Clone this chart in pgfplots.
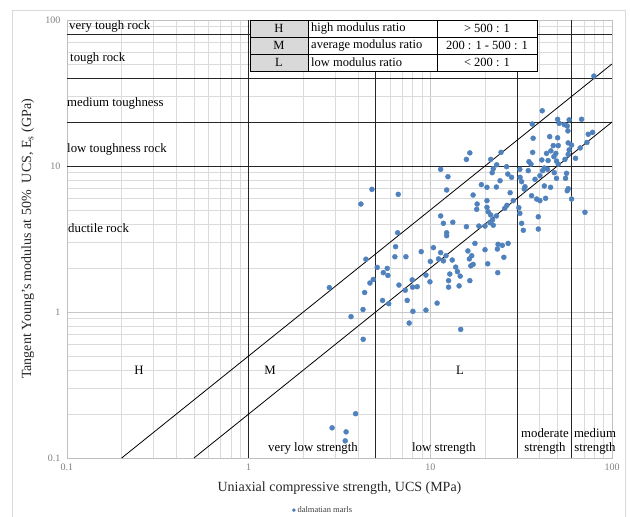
\documentclass[border=0pt]{standalone}
\usepackage{fontspec}
\setmainfont{Liberation Serif}
\usepackage{pgfplots}
\pgfplotsset{compat=1.18}
\usepackage{pgfplotstable}
\definecolor{mkblue}{RGB}{79,129,189}
\pgfplotstableread{
x y
4.77 6.92
6.66 6.40
4.15 5.49
6.61 3.49
6.44 2.80
6.38 2.39
7.34 2.39
4.42 2.30
2.78 1.47
5.10 2.02
5.79 1.99
5.51 1.86
5.84 1.78
4.85 1.67
4.65 1.58
7.95 1.66
6.72 1.53
8.47 1.49
7.99 1.48
7.28 1.41
4.35 1.36
5.46 1.20
5.90 1.14
7.46 1.20
4.26 1.04
8.02 1.01
3.66 0.93
7.65 0.84
4.27 0.65
16.5 12.3
15.8 11.1
24.5 12.4
21.5 11.1
23.2 10.2
22.2 9.58
21.9 9.0
26.3 9.89
11.4 9.49
12.5 8.45
26.7 8.81
28.0 8.37
24.2 7.93
12.3 6.85
19.1 7.45
20.5 7.15
23.1 7.18
27.5 6.56
17.2 6.33
20.5 5.79
28.6 5.79
18.1 5.49
18.0 5.05
20.5 5.21
26.4 5.38
25.7 5.13
20.8 4.86
23.1 4.55
11.4 4.55
21.5 4.62
22.0 4.27
11.8 4.05
13.3 4.12
21.3 4.09
22.2 3.93
20.0 3.88
18.5 3.88
15.8 3.84
12.3 3.49
12.3 3.33
8.91 2.59
10.4 2.76
11.4 2.55
12.2 2.43
11.1 2.31
11.8 2.24
10.0 2.22
13.2 2.27
16.1 2.62
17.6 2.95
16.9 2.43
16.4 2.31
20.0 2.67
23.6 2.91
24.9 2.86
26.8 2.95
23.4 2.70
25.4 2.37
20.7 2.14
17.2 2.12
16.7 2.07
13.8 2.03
14.1 1.89
12.8 1.82
14.6 1.76
9.46 1.79
9.95 1.61
12.6 1.64
12.6 1.48
14.4 1.51
16.5 1.64
23.5 1.86
10.9 1.15
9.46 1.03
14.7 0.76
41.3 23.9
36.4 19.4
50.2 20.9
51.2 19.6
54.6 19.2
58.1 20.7
68.0 20.9
56.7 18.8
57.2 17.4
74.0 16.5
78.2 17.0
36.8 15.5
45.4 15.9
50.2 15.6
72.8 14.5
57.4 14.4
50.6 13.8
47.5 13.8
59.9 13.9
46.1 12.7
43.6 12.2
49.1 12.2
58.1 12.9
66.8 13.3
36.6 12.4
57.4 12.0
63.0 11.3
47.9 11.6
41.1 11.0
44.5 10.9
49.5 10.8
55.1 11.1
34.9 10.7
35.8 10.3
31.1 9.49
34.6 9.29
42.4 9.69
50.6 10.3
41.5 9.29
44.2 9.49
48.1 9.0
56.2 8.91
31.2 8.37
37.7 8.11
40.1 8.58
49.5 8.24
55.5 8.24
31.8 7.81
33.2 7.21
42.4 7.30
45.9 7.15
57.4 6.99
32.9 6.96
36.1 6.26
38.5 5.94
40.1 5.79
43.1 6.01
56.7 6.77
59.9 5.94
30.7 5.18
31.1 4.74
39.3 4.49
71.0 4.82
31.8 4.05
32.5 3.63
39.3 3.70
79.5 41.3
2.88 0.161
3.44 0.151
3.40 0.131
3.88 0.201
}\marls
\begin{document}
\begin{tikzpicture}
\path[use as bounding box] (-67pt,-59pt) rectangle (563pt,458pt);
\draw[black!15, line width=0.8pt] (-55pt,-59.5pt) rectangle (558pt,448pt);
\begin{axis}[
  at={(0,0)}, anchor=south west,
  scale only axis, width=545pt, height=438pt,
  xmode=log, ymode=log,
  xmin=0.1, xmax=100, ymin=0.1, ymax=100,
  xtick={0.1,1,10,100}, xticklabels={0.1,1,10,100},
  ytick={0.1,1,10,100}, yticklabels={0.1,1,10,100},
  minor xtick={0.2,0.3,0.4,0.5,0.6,0.7,0.8,0.9,2,3,4,5,6,7,8,9,20,30,40,50,60,70,80,90},
  minor ytick={0.2,0.3,0.4,0.5,0.6,0.7,0.8,0.9,2,3,4,5,6,7,8,9,20,30,40,50,60,70,80,90},
  grid=both,
  major grid style={black!22, line width=0.6pt},
  minor grid style={black!14, line width=0.6pt},
  tick style={draw=none},
  axis line style={black!25, line width=0.6pt},
  ticklabel style={font=\fontsize{10}{11}\selectfont, text=black!50},
  xticklabel style={yshift=-2pt},
  yticklabel style={xshift=-3pt},
  /pgf/number format/assume math mode=true,
  xlabel={Uniaxial compressive strength, UCS (MPa)},
  ylabel={Tangent Young's modulus at 50\%\ \ UCS, E\textsubscript{s} (GPa)},
  label style={font=\fontsize{14}{16}\selectfont, text=black!85},
  xlabel style={at={(axis description cs:0.5,-0.068)}, anchor=center},
  ylabel style={at={(axis description cs:-0.072,0.5)}, anchor=center},
  legend style={at={(axis description cs:0.47,-0.119)}, anchor=center, draw=none, fill=none,
    font=\fontsize{8.5}{9}\selectfont, text=black!75, inner sep=1pt},
  legend image code/.code={\draw[#1, mark size=1.7pt] plot coordinates {(0.1cm,0cm)};},
]
% boundary lines
\addplot[black!85, line width=0.9pt, forget plot] coordinates {(0.1,80) (100,80)};
\addplot[black!85, line width=0.9pt, forget plot] coordinates {(0.1,40) (100,40)};
\addplot[black!85, line width=0.9pt, forget plot] coordinates {(0.1,20) (100,20)};
\addplot[black!85, line width=0.9pt, forget plot] coordinates {(0.1,10) (100,10)};
\addplot[black!85, line width=0.9pt, forget plot] coordinates {(1,0.1) (1,100)};
\addplot[black!85, line width=0.9pt, forget plot] coordinates {(5,0.1) (5,100)};
\addplot[black!85, line width=0.9pt, forget plot] coordinates {(30,0.1) (30,100)};
\addplot[black!85, line width=0.9pt, forget plot] coordinates {(60,0.1) (60,100)};
% modulus ratio lines
\addplot[black, line width=0.8pt, forget plot] coordinates {(0.2,0.1) (100,50)};
\addplot[black, line width=0.8pt, forget plot] coordinates {(0.5,0.1) (100,20)};
% data
\addplot[only marks, mark=*, mark size=2.5pt, color=mkblue, mark options={fill=mkblue, draw=mkblue}] table[x=x, y=y] {\marls};
\addlegendentry{dalmatian marls}
\end{axis}
\begin{scope}[x=1pt, y=-1pt, shift={(-67pt,458pt)}]
% table
\fill[white] (250,20) rectangle (537,71);
\fill[black!15] (250,20) rectangle (308,71);
\draw[black, line width=0.8pt] (250,20) rectangle (537,71);
\draw[black, line width=0.8pt] (308,20) -- (308,71) (437,20) -- (437,71) (250,37) -- (537,37) (250,54) -- (537,54);
\begin{scope}[every node/.style={font=\fontsize{12.5}{14}\selectfont, inner sep=0pt}]
\node at (279,28.5) {H};
\node at (279,45.5) {M};
\node at (279,62.5) {L};
\node[anchor=west] at (311,28.5) {high modulus ratio};
\node[anchor=west] at (311,45.5) {average modulus ratio};
\node[anchor=west] at (311,62.5) {low modulus ratio};
\node at (487,28.5) {> 500 : 1};
\node at (487,45.5) {200 : 1 - 500 : 1};
\node at (487,62.5) {< 200 : 1};
\end{scope}
\begin{scope}[every node/.style={font=\fontsize{12.8}{14}\selectfont, inner sep=0pt, anchor=west}]
\node at (69,26.5) {very tough rock};
\node at (70,58) {tough rock};
\node at (67,103) {medium toughness};
\node at (67,149) {low toughness rock};
\node at (68,228) {ductile rock};
\end{scope}
\begin{scope}[every node/.style={font=\fontsize{12.8}{14}\selectfont, inner sep=0pt}]
\node at (139,370) {H};
\node at (270,370) {M};
\node at (460,370) {L};
\node at (313,448) {very low strength};
\node at (444,448) {low strength};
\node at (545,433) {moderate};
\node at (545,448) {strength};
\node at (595,433) {medium};
\node at (595,448) {strength};
\end{scope}
\end{scope}
\end{tikzpicture}
\end{document}
